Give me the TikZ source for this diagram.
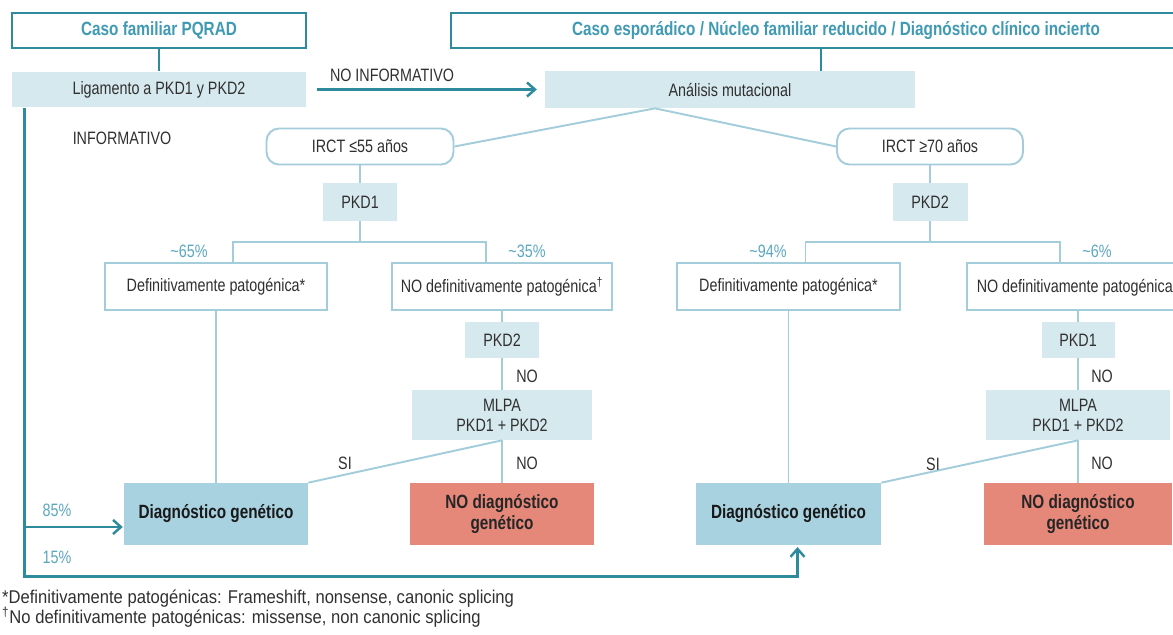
\documentclass[tikz,border=0pt]{standalone}
\usepackage{fontspec}
\setmainfont{Liberation Sans}[FakeStretch=0.8]
\newfontfamily\notefont{Liberation Sans}[FakeStretch=0.9]
\usetikzlibrary{arrows.meta}
\usetikzlibrary{calc}

\definecolor{tealdk}{HTML}{2E8B9D}
\definecolor{tealtx}{HTML}{3F9AB3}
\definecolor{boxfill}{HTML}{D6E9EF}
\definecolor{linelt}{HTML}{A3CDDA}
\definecolor{diagfill}{HTML}{A8D2E0}
\definecolor{redfill}{HTML}{E5887A}
\definecolor{pcttx}{HTML}{5AA7BF}
\definecolor{bodytx}{HTML}{303030}

\begin{document}
\begin{tikzpicture}[x=0.02cm, y=-0.02cm,
	font=\fontsize{10.2}{11.5}\selectfont, text=bodytx,
	>={Straight Barb[length=4.5pt,width=8pt]},
	headbox/.style={draw=tealdk, line width=1.4pt, inner sep=0pt, minimum height=0.7cm, text=tealtx, font=\fontsize{10.9}{12}\selectfont\bfseries},
	lightbox/.style={fill=boxfill, inner sep=0pt},
	openbox/.style={draw=linelt, line width=1.1pt, fill=white, inner sep=0pt, minimum height=0.94cm},
	roundbox/.style={openbox, rounded corners=0.25cm, minimum height=0.72cm},
	diagbox/.style={fill=diagfill, inner sep=0pt, minimum height=1.24cm, text=black!90, font=\fontsize{10.9}{12}\selectfont\bfseries},
	nodiagbox/.style={fill=redfill, inner sep=0pt, minimum height=1.24cm, align=center, text=black!85, font=\fontsize{10.9}{12.5}\selectfont\bfseries},
	link/.style={draw=linelt, line width=1.1pt},
	mainlink/.style={draw=tealdk, line width=1.4pt},
	pct/.style={text=pcttx, inner sep=1pt}]
	\useasboundingbox (0,0) rectangle (1173,635);

	% cabeceras
	\node[headbox, minimum width=5.88cm] (famil) at (159,30.5) {Caso familiar PQRAD};
	\node[headbox, minimum width=14.8cm, anchor=west] (espor) at (450,30.5) {};
	\node[text=tealtx, font=\fontsize{10.9}{12}\selectfont\bfseries] (esptxt) at (836,30.5) {Caso esporádico / Núcleo familiar reducido / Diagnóstico clínico incierto};

	\node[lightbox, minimum width=5.88cm, minimum height=0.72cm] (lig) at (159,89.5) {Ligamento a PKD1 y PKD2};
	\node[lightbox, minimum width=7.4cm, minimum height=0.74cm] (anal) at (730,89.5) {Análisis mutacional};
	\draw[mainlink] (famil.south) -- (lig.north);
	\coordinate (esporfoot) at ($(espor.south west)+(371,0)$);
	\draw[mainlink] (esporfoot) -- (esporfoot |- anal.north);
	\draw[mainlink, ->, shorten <=6pt, shorten >=4.5pt] (lig.east) -- (anal.west);
	\node (noinf) at (392,75) {NO INFORMATIVO};
	\node (inf) at (122,138) {INFORMATIVO};

	% edad de IRCT
	\coordinate (apex) at ($(anal.south)+(-75,0)$);
	\node[roundbox, minimum width=3.74cm] (irct1) at (360,146.5) {IRCT ≤55 años};
	\node[roundbox, minimum width=3.72cm] (irct2) at (930,146.5) {IRCT ≥70 años};
	\draw[link] (irct1.east) -- (apex) -- (irct2.west);

	\node[lightbox, minimum width=1.48cm, minimum height=0.76cm] (pkd1a) at (360,202) {PKD1};
	\node[lightbox, minimum width=1.5cm, minimum height=0.76cm] (pkd2a) at (930,202) {PKD2};
	\draw[link] (irct1.south) -- (pkd1a.north);
	\draw[link] (irct2.south) -- (pkd2a.north);

	% tipo de mutacion
	\node[openbox, minimum width=4.44cm] (def1) at (216,286.5) {Definitivamente patogénica*};
	\node[openbox, minimum width=4.4cm] (nodef1) at (502,286.5) {NO definitivamente patogénica\textsuperscript{†}};
	\node[openbox, minimum width=4.46cm] (def2) at (788.5,286.5) {Definitivamente patogénica*};
	\node[openbox, minimum width=4.44cm] (nodef2) at (1078,286.5) {NO definitivamente patogénica\textsuperscript{†}};
	\draw[link] (pkd1a.south) -- ++(0,22);
	\draw[link] ($(def1.north)+(17,0)$) -- ++(0,-20) -| ($(nodef1.north)+(-16,0)$);
	\draw[link] (pkd2a.south) -- ++(0,22);
	\draw[link] ($(def2.north)+(17,0)$) -- ++(0,-20) -| ($(nodef2.north)+(-18,0)$);
	\node[pct] (p65) at (189,251) {\textasciitilde65\%};
	\node[pct] (p35) at (527,251) {\textasciitilde35\%};
	\node[pct] (p94) at (768,251) {\textasciitilde94\%};
	\node[pct] (p6) at (1097,251) {\textasciitilde6\%};

	% segundo gen y MLPA
	\node[lightbox, minimum width=1.48cm, minimum height=0.72cm] (pkd2b) at (502,340) {PKD2};
	\node[lightbox, minimum width=1.46cm, minimum height=0.72cm] (pkd1b) at (1078,340) {PKD1};
	\node[lightbox, minimum width=3.62cm, minimum height=1.0cm, align=center] (mlpa1) at (502,415) {MLPA\\PKD1 + PKD2};
	\node[lightbox, minimum width=3.7cm, minimum height=1.0cm, align=center] (mlpa2) at (1078,415) {MLPA\\PKD1 + PKD2};
	\draw[link] (nodef1.south) -- (pkd2b.north);
	\draw[link] (pkd2b.south) -- (mlpa1.north);
	\draw[link] (nodef2.south) -- (pkd1b.north);
	\draw[link] (pkd1b.south) -- (mlpa2.north);
	\node (no1) at (527,376) {NO};
	\node (no2) at (1102,376) {NO};

	% resultado
	\node[diagbox, minimum width=3.68cm] (dg1) at (216,514) {Diagnóstico genético};
	\node[nodiagbox, minimum width=3.7cm] (red1) at (502,514) {NO diagnóstico\\genético};
	\node[diagbox, minimum width=3.7cm] (dg2) at (788.5,514) {Diagnóstico genético};
	\node[nodiagbox, minimum width=3.76cm] (red2) at (1078,514) {NO diagnóstico\\genético};
	\draw[link] (def1.south) -- (dg1.north);
	\draw[link] (mlpa1.south) -- (red1.north);
	\draw[link] (mlpa1.south) -- (dg1.north east);
	\draw[link] (def2.south) -- (dg2.north);
	\draw[link] (mlpa2.south) -- (red2.north);
	\draw[link] (mlpa2.south) -- (dg2.north east);
	\node (si1) at (345,463) {SI};
	\node (no3) at (527,463) {NO};
	\node (si2) at (933,464) {SI};
	\node (no4) at (1102,463) {NO};

	% rama del caso familiar
	\coordinate (trunk) at ($(lig.south west)+(13,0)$);
	\coordinate (hit) at ($(dg1.west)+(0,13)$);
	\draw[mainlink, ->, shorten >=1pt] (trunk) |- ($(dg2.south)+(9,31)$) -- ($(dg2.south)+(9,0)$);
	\draw[mainlink, ->, shorten >=0.5pt] (trunk |- hit) -- (hit);
	\node[pct] (p85) at (57,510) {85\%};
	\node[pct] (p15) at (57,557) {15\%};

	% notas
	\node[anchor=west, inner sep=1pt, font=\notefont\fontsize{10.5}{12}\selectfont] (fn1) at (0,599) {*Definitivamente patogénicas: Frameshift, nonsense, canonic splicing};
	\node[anchor=west, inner sep=1pt, font=\notefont\fontsize{10.5}{12}\selectfont] (fn2) at (0,617) {\textsuperscript{†}No definitivamente patogénicas: missense, non canonic splicing};
\end{tikzpicture}
\end{document}
